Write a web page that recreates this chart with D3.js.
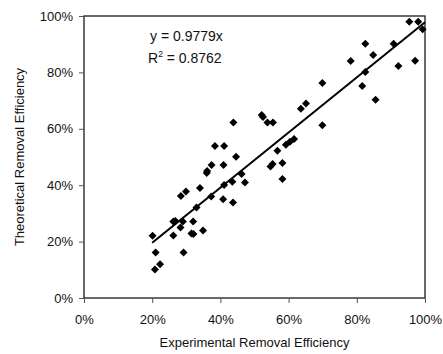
<!DOCTYPE html>
<html>
<head>
<meta charset="utf-8">
<script src="https://cdn.jsdelivr.net/npm/d3@7"></script>
<style>
  body { margin: 0; background: #fff; }
  svg { font-family: "Liberation Sans", Arial, sans-serif; }
</style>
</head>
<body>
<svg id="chart" width="443" height="354"></svg>
<script>
// experimental vs theoretical removal efficiency (%)
const experimental = [20.1, 21.0, 20.8, 22.3, 26.2, 26.2, 26.8, 28.3, 29.2, 29.0,
  28.4, 29.9, 31.5, 32.1, 32.0, 33.0, 34.0, 34.9, 36.0, 36.1,
  37.4, 38.4, 37.3, 40.9, 41.1, 40.8, 41.1, 43.7, 43.5, 44.6,
  43.8, 46.2, 47.2, 52.1, 52.5, 53.8, 55.4, 54.7, 55.3, 56.7,
  58.2, 58.2, 59.2, 60.4, 61.6, 63.6, 65.1, 69.9, 69.9, 78.2,
  81.6, 82.5, 82.5, 84.8, 85.5, 90.8, 92.2, 97.1, 95.4, 98.0, 99.3]
const theoretical = [22.1, 16.1, 10.1, 12.0, 22.2, 27.1, 27.3, 25.0, 16.1, 27.1,
  36.2, 37.8, 22.9, 22.7, 27.1, 32.1, 39.0, 23.9, 44.3, 45.0,
  47.2, 53.9, 36.0, 47.2, 53.9, 35.0, 40.1, 33.9, 41.2, 50.1,
  62.2, 44.0, 41.0, 64.9, 64.2, 62.2, 62.2, 46.6, 47.5, 52.2,
  47.9, 42.2, 54.3, 55.4, 56.4, 67.1, 69.0, 76.2, 61.3, 84.0,
  75.2, 80.1, 90.2, 86.2, 70.3, 90.2, 82.3, 84.1, 98.0, 98.0, 95.3]

const xTicks = [0, 20, 40, 60, 80, 100]
const yTicks = [0, 20, 40, 60, 80, 100]
const slope = 0.9779
const trendRange = [20, 100]
const equationLines = ["y = 0.9779x", "R2 = 0.8762"]

const svg = d3.select("#chart")
const plotLeft = 84, plotRight = 425, plotTop = 16, plotBottom = 298

const x = d3.scaleLinear().domain([0, 100]).range([plotLeft, plotRight])
const y = d3.scaleLinear().domain([0, 100]).range([plotBottom, plotTop])

// plot frame
svg.append("rect")
  .attr("x", plotLeft).attr("y", plotTop)
  .attr("width", plotRight - plotLeft).attr("height", plotBottom - plotTop)
  .attr("fill", "none").attr("stroke", "#1a1a1a").attr("stroke-width", 1.3)

const fmt = d => d + "%"

const xAxis = svg.append("g")
  .attr("transform", `translate(0,${plotBottom})`)
  .call(d3.axisBottom(x).tickValues(xTicks).tickFormat(fmt).tickSize(5).tickPadding(12))
const yAxis = svg.append("g")
  .attr("transform", `translate(${plotLeft},0)`)
  .call(d3.axisLeft(y).tickValues(yTicks).tickFormat(fmt).tickSize(5).tickPadding(6))

for (const g of [xAxis, yAxis]) {
  g.select(".domain").remove()
  g.selectAll("line").attr("stroke", "#555")
  g.selectAll("text").attr("font-size", 13).attr("fill", "#111")
    .attr("font-family", "Liberation Sans, Arial, sans-serif")
}

// axis titles
svg.append("text")
  .attr("x", (plotLeft + plotRight) / 2).attr("y", 347)
  .attr("text-anchor", "middle").attr("font-size", 13).attr("fill", "#111")
  .text("Experimental Removal Efficiency")
svg.append("text")
  .attr("transform", `translate(24,${(plotTop + plotBottom) / 2}) rotate(-90)`)
  .attr("text-anchor", "middle").attr("font-size", 13).attr("fill", "#111")
  .text("Theoretical Removal Efficiency")

// points
const points = experimental.map((v, i) => ({ ex: v, th: theoretical[i] }))
svg.append("g")
  .selectAll("path")
  .data(points)
  .enter()
  .append("path")
    .attr("d", "M0,-4L4,0L0,4L-4,0Z")
    .attr("transform", d => `translate(${x(d.ex)},${y(d.th)})`)
    .attr("fill", "#000")

// trend line through origin
const line = d3.line().x(d => x(d)).y(d => y(slope * d))
svg.append("path")
  .datum(trendRange)
  .attr("d", line)
  .attr("fill", "none").attr("stroke", "#000").attr("stroke-width", 2)

// equation label
svg.append("text")
  .attr("x", 150).attr("y", 41).attr("font-size", 14).attr("fill", "#111")
  .text(equationLines[0])
const r2 = svg.append("text")
  .attr("x", 148).attr("y", 63).attr("font-size", 14).attr("fill", "#111")
r2.append("tspan").text("R")
r2.append("tspan").attr("font-size", 8.5).attr("dy", -6).text("2")
r2.append("tspan").attr("dy", 6).text(" = 0.8762")
</script>
</body>
</html>
